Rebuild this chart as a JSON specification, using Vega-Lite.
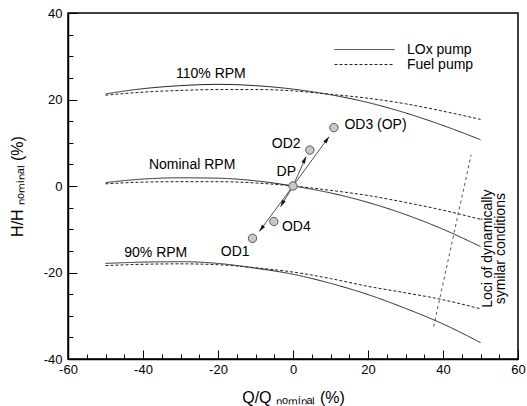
{
  "$schema": "https://vega.github.io/schema/vega-lite/v6.json",
  "width": 450,
  "height": 346,
  "autosize": {"type": "none"},
  "padding": {"left": 68, "top": 13, "right": 9, "bottom": 47},
  "config": {
    "font": "Liberation Sans",
    "view": {"stroke": "#000", "strokeWidth": 1.5},
    "axis": {
      "zindex": 1,
      "domainColor": "#000", "domainWidth": 1.5, "tickColor": "#000", "tickWidth": 1, "tickOpacity": 1,
      "labelFont": "Liberation Sans", "labelFontSize": 13, "labelColor": "#000",
      "titleFont": "Liberation Sans", "titleFontSize": 16, "titleFontWeight": "normal", "titleColor": "#000",
      "grid": false, "labelOverlap": false, "labelFlush": false
    }
  },
  "datasets": {
    "curves": [
      {"q": -50, "h": 21.3, "rpm": "110", "pump": "LOx pump"},
      {"q": -40, "h": 22.5, "rpm": "110", "pump": "LOx pump"},
      {"q": -30, "h": 23.2, "rpm": "110", "pump": "LOx pump"},
      {"q": -20, "h": 23.5, "rpm": "110", "pump": "LOx pump"},
      {"q": -10, "h": 23.2, "rpm": "110", "pump": "LOx pump"},
      {"q": 0, "h": 22.4, "rpm": "110", "pump": "LOx pump"},
      {"q": 10, "h": 21.1, "rpm": "110", "pump": "LOx pump"},
      {"q": 20, "h": 19.3, "rpm": "110", "pump": "LOx pump"},
      {"q": 30, "h": 16.9, "rpm": "110", "pump": "LOx pump"},
      {"q": 40, "h": 14.0, "rpm": "110", "pump": "LOx pump"},
      {"q": 50, "h": 10.7, "rpm": "110", "pump": "LOx pump"},
      {"q": -50, "h": 21.0, "rpm": "110", "pump": "Fuel pump"},
      {"q": -40, "h": 21.7, "rpm": "110", "pump": "Fuel pump"},
      {"q": -30, "h": 22.1, "rpm": "110", "pump": "Fuel pump"},
      {"q": -20, "h": 22.3, "rpm": "110", "pump": "Fuel pump"},
      {"q": -10, "h": 22.3, "rpm": "110", "pump": "Fuel pump"},
      {"q": 0, "h": 22.0, "rpm": "110", "pump": "Fuel pump"},
      {"q": 10, "h": 21.2, "rpm": "110", "pump": "Fuel pump"},
      {"q": 20, "h": 20.3, "rpm": "110", "pump": "Fuel pump"},
      {"q": 30, "h": 19.0, "rpm": "110", "pump": "Fuel pump"},
      {"q": 40, "h": 17.3, "rpm": "110", "pump": "Fuel pump"},
      {"q": 50, "h": 15.4, "rpm": "110", "pump": "Fuel pump"},
      {"q": -50, "h": 0.8, "rpm": "100", "pump": "LOx pump"},
      {"q": -40, "h": 1.6, "rpm": "100", "pump": "LOx pump"},
      {"q": -30, "h": 1.9, "rpm": "100", "pump": "LOx pump"},
      {"q": -20, "h": 1.8, "rpm": "100", "pump": "LOx pump"},
      {"q": -10, "h": 1.2, "rpm": "100", "pump": "LOx pump"},
      {"q": 0, "h": 0.0, "rpm": "100", "pump": "LOx pump"},
      {"q": 10, "h": -1.6, "rpm": "100", "pump": "LOx pump"},
      {"q": 20, "h": -3.8, "rpm": "100", "pump": "LOx pump"},
      {"q": 30, "h": -6.6, "rpm": "100", "pump": "LOx pump"},
      {"q": 40, "h": -10.0, "rpm": "100", "pump": "LOx pump"},
      {"q": 50, "h": -14.0, "rpm": "100", "pump": "LOx pump"},
      {"q": -50, "h": 0.5, "rpm": "100", "pump": "Fuel pump"},
      {"q": -40, "h": 0.9, "rpm": "100", "pump": "Fuel pump"},
      {"q": -30, "h": 1.0, "rpm": "100", "pump": "Fuel pump"},
      {"q": -20, "h": 1.0, "rpm": "100", "pump": "Fuel pump"},
      {"q": -10, "h": 0.7, "rpm": "100", "pump": "Fuel pump"},
      {"q": 0, "h": 0.0, "rpm": "100", "pump": "Fuel pump"},
      {"q": 10, "h": -1.0, "rpm": "100", "pump": "Fuel pump"},
      {"q": 20, "h": -2.2, "rpm": "100", "pump": "Fuel pump"},
      {"q": 30, "h": -3.8, "rpm": "100", "pump": "Fuel pump"},
      {"q": 40, "h": -5.6, "rpm": "100", "pump": "Fuel pump"},
      {"q": 50, "h": -7.7, "rpm": "100", "pump": "Fuel pump"},
      {"q": -50, "h": -17.9, "rpm": "90", "pump": "LOx pump"},
      {"q": -40, "h": -17.6, "rpm": "90", "pump": "LOx pump"},
      {"q": -30, "h": -17.5, "rpm": "90", "pump": "LOx pump"},
      {"q": -20, "h": -17.9, "rpm": "90", "pump": "LOx pump"},
      {"q": -10, "h": -19.0, "rpm": "90", "pump": "LOx pump"},
      {"q": 0, "h": -20.4, "rpm": "90", "pump": "LOx pump"},
      {"q": 10, "h": -22.5, "rpm": "90", "pump": "LOx pump"},
      {"q": 20, "h": -25.1, "rpm": "90", "pump": "LOx pump"},
      {"q": 30, "h": -28.3, "rpm": "90", "pump": "LOx pump"},
      {"q": 40, "h": -31.9, "rpm": "90", "pump": "LOx pump"},
      {"q": 50, "h": -36.2, "rpm": "90", "pump": "LOx pump"},
      {"q": -50, "h": -18.4, "rpm": "90", "pump": "Fuel pump"},
      {"q": -40, "h": -18.1, "rpm": "90", "pump": "Fuel pump"},
      {"q": -30, "h": -18.0, "rpm": "90", "pump": "Fuel pump"},
      {"q": -20, "h": -18.2, "rpm": "90", "pump": "Fuel pump"},
      {"q": -10, "h": -18.9, "rpm": "90", "pump": "Fuel pump"},
      {"q": 0, "h": -19.9, "rpm": "90", "pump": "Fuel pump"},
      {"q": 10, "h": -21.4, "rpm": "90", "pump": "Fuel pump"},
      {"q": 20, "h": -23.2, "rpm": "90", "pump": "Fuel pump"},
      {"q": 30, "h": -24.7, "rpm": "90", "pump": "Fuel pump"},
      {"q": 40, "h": -26.3, "rpm": "90", "pump": "Fuel pump"},
      {"q": 50, "h": -28.4, "rpm": "90", "pump": "Fuel pump"}
    ],
    "loci": [
      {"q": 47.5, "h": 7.2},
      {"q": 37.5, "h": -32.5}
    ],
    "arrows": [
      {"name": "OD1", "q": 0, "h": 0, "tq": -9.0, "th": -10.5, "angle": 218},
      {"name": "OD2", "q": 0, "h": 0, "tq": 3.5, "th": 6.8, "angle": 25},
      {"name": "OD3", "q": 0, "h": 0, "tq": 9.6, "th": 11.4, "angle": 35},
      {"name": "OD4", "q": 0, "h": 0, "tq": -3.3, "th": -4.8, "angle": 208}
    ],
    "points": [
      {"name": "DP", "q": 0, "h": 0},
      {"name": "OD1", "q": -10.8, "h": -12.1},
      {"name": "OD2", "q": 4.5, "h": 8.3},
      {"name": "OD3", "q": 10.9, "h": 13.5},
      {"name": "OD4", "q": -5.1, "h": -8.2}
    ],
    "labels": [
      {"text": "110% RPM", "q": -21.9, "h": 26.0},
      {"text": "Nominal RPM", "q": -26.9, "h": 4.8},
      {"text": "90% RPM", "q": -36.6, "h": -15.5},
      {"text": "OD1", "q": -15.4, "h": -15.2},
      {"text": "OD4", "q": 0.9, "h": -9.4},
      {"text": "DP", "q": -1.8, "h": 3.3},
      {"text": "OD2", "q": -1.8, "h": 9.8},
      {"text": "OD3 (OP)", "q": 22.0, "h": 14.1}
    ],
    "note": [
      {"text": "Loci of dynamically\nsymilar conditions", "q": 52.0, "h": -14.5}
    ]
  },
  "encoding": {
    "x": {
      "field": "q", "type": "quantitative",
      "scale": {"domain": [-60, 60], "nice": false, "zero": false},
      "axis": {
        "title": "Q/Q ₙₒₘᵢₙₐₗ (%)",
        "values": [-60,-55,-50,-45,-40,-35,-30,-25,-20,-15,-10,-5,0,5,10,15,20,25,30,35,40,45,50,55,60],
        "labelExpr": "datum.value % 20 === 0 ? '' + datum.value : ''",
        "ticks": true,
        "tickSize": {"condition": {"test": "datum.value % 20 === 0", "value": -9}, "value": -5},
        "labelPadding": 13,
        "titlePadding": 9
      }
    },
    "y": {
      "field": "h", "type": "quantitative",
      "scale": {"domain": [-40, 40], "nice": false, "zero": false},
      "axis": {
        "title": "H/H ₙₒₘᵢₙₐₗ (%)",
        "values": [-40,-35,-30,-25,-20,-15,-10,-5,0,5,10,15,20,25,30,35,40],
        "labelExpr": "datum.value % 20 === 0 ? '' + datum.value : ''",
        "ticks": true,
        "tickSize": {"condition": {"test": "datum.value % 20 === 0", "value": -9}, "value": -5},
        "labelPadding": 15,
        "titlePadding": 18
      }
    }
  },
  "layer": [
    {
      "data": {"name": "curves"},
      "mark": {"type": "line", "interpolate": "monotone", "strokeWidth": 1, "color": "#222"},
      "encoding": {
        "detail": {"field": "rpm", "type": "nominal"},
        "strokeDash": {
          "field": "pump", "type": "nominal",
          "scale": {"domain": ["LOx pump", "Fuel pump"], "range": [[1, 0], [3, 2]]},
          "legend": {
            "title": null, "orient": "none", "legendX": 266, "legendY": 29,
            "symbolType": "stroke", "symbolSize": 3600, "symbolStrokeWidth": 1,
            "symbolStrokeColor": "#222", "labelFontSize": 14, "labelColor": "#000",
            "labelOffset": 12, "clipHeight": 15, "rowPadding": 0, "padding": 0
          }
        }
      }
    },
    {
      "data": {"name": "loci"},
      "mark": {"type": "line", "strokeWidth": 1, "color": "#555", "strokeDash": [3, 3]},
      "encoding": {}
    },
    {
      "data": {"name": "arrows"},
      "mark": {"type": "rule", "strokeWidth": 0.8, "color": "#222"},
      "encoding": {
        "x2": {"field": "tq"},
        "y2": {"field": "th"}
      }
    },
    {
      "data": {"name": "arrows"},
      "mark": {"type": "point", "shape": "M0,0L-0.5,1.8L0.5,1.8Z", "filled": true, "color": "#111", "size": 60, "opacity": 1},
      "encoding": {
        "x": {"field": "tq", "type": "quantitative"},
        "y": {"field": "th", "type": "quantitative"},
        "angle": {"field": "angle", "type": "quantitative", "scale": null}
      }
    },
    {
      "data": {"name": "points"},
      "mark": {"type": "point", "shape": "circle", "filled": true, "fill": "#c8c8c8", "stroke": "#555", "strokeWidth": 1, "size": 70, "opacity": 1},
      "encoding": {}
    },
    {
      "data": {"name": "labels"},
      "mark": {"type": "text", "fontSize": 14, "color": "#000", "align": "center", "baseline": "middle"},
      "encoding": {"text": {"field": "text"}}
    },
    {
      "data": {"name": "note"},
      "mark": {"type": "text", "fontSize": 14, "color": "#000", "align": "center", "baseline": "middle", "angle": 270, "lineBreak": "\n", "lineHeight": 13},
      "encoding": {"text": {"field": "text"}}
    }
  ]
}
